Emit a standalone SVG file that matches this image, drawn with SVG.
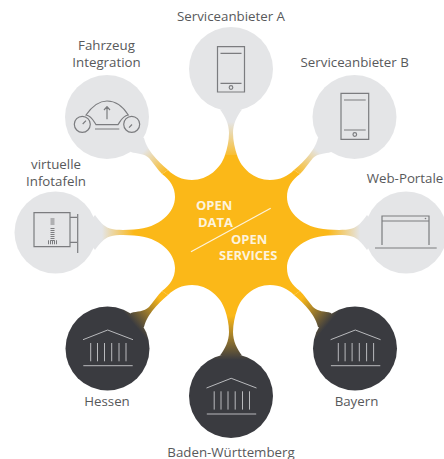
<svg xmlns="http://www.w3.org/2000/svg" width="444" height="459" viewBox="0 0 444 459">
<style>
.t{font-family:"Open Sans","Noto Sans",sans-serif;font-size:13.3px;fill:#58595b;text-anchor:middle}
.c{font-family:"Open Sans","Noto Sans",sans-serif;font-size:13px;font-weight:700;fill:#fdf3dc}
.i{fill:none;stroke:#7b7c7f;stroke-width:1.2}
.b{fill:none;stroke:#b9babd;stroke-width:1}
</style>
<defs>
<linearGradient id="ga" gradientUnits="userSpaceOnUse" x1="231" y1="160" x2="231" y2="122"><stop offset="0" stop-color="#fbb818"/><stop offset="1" stop-color="#e4e5e7"/></linearGradient>
<linearGradient id="gb" gradientUnits="userSpaceOnUse" x1="294" y1="173" x2="316" y2="149"><stop offset="0" stop-color="#fbb818"/><stop offset="1" stop-color="#e4e5e7"/></linearGradient>
<linearGradient id="gf" gradientUnits="userSpaceOnUse" x1="168" y1="173" x2="146" y2="149"><stop offset="0" stop-color="#fbb818"/><stop offset="1" stop-color="#e4e5e7"/></linearGradient>
<linearGradient id="gw" gradientUnits="userSpaceOnUse" x1="328" y1="232" x2="360" y2="232"><stop offset="0" stop-color="#fbb818"/><stop offset="1" stop-color="#e4e5e7"/></linearGradient>
<linearGradient id="gv" gradientUnits="userSpaceOnUse" x1="134" y1="232" x2="102" y2="232"><stop offset="0" stop-color="#fbb818"/><stop offset="1" stop-color="#e4e5e7"/></linearGradient>
<linearGradient id="gh" gradientUnits="userSpaceOnUse" x1="160" y1="298" x2="132" y2="322"><stop offset="0" stop-color="#fbb818"/><stop offset="1" stop-color="#3a3b40"/></linearGradient>
<linearGradient id="gy" gradientUnits="userSpaceOnUse" x1="302" y1="298" x2="330" y2="322"><stop offset="0" stop-color="#fbb818"/><stop offset="1" stop-color="#3a3b40"/></linearGradient>
<linearGradient id="gu" gradientUnits="userSpaceOnUse" x1="231" y1="316" x2="231" y2="360"><stop offset="0" stop-color="#fbb818"/><stop offset="1" stop-color="#3a3b40"/></linearGradient>
<g id="bank"><path class="b" d="M83 339.700L107.700 330L133 339.700M83.300 365.700H132.700M90.700 343V361.300M97.500 343V361.300M104.500 343V361.300M111.700 343V361.300M119 343V361.300M126 343V361.300"/></g>
</defs>

<g id="hub">
<path fill="#fbb818" d="M237 155C241 168 254 180 270 180C280 180 288 176 294 170L300 174C292 180 287 187 287 197C287 212 302 228 328 229.500L328 235.500C302 237 287 253 287 268C287 278 292 285 300 291L294 295C288 289 280 285 270 285C254 285 241 297 237 310L225 310C221 297 208 285 192 285C182 285 174 289 168 295L162 291C170 285 175 278 175 268C175 253 160 237 134 235.500L134 229.500C160 228 175 212 175 197C175 187 170 180 162 174L168 170C174 176 182 180 192 180C208 180 221 168 225 155Z"/>
<text class="c" x="196" y="210">OPEN</text>
<text class="c" x="198" y="226.500">DATA</text>
<text class="c" x="231" y="243.500">OPEN</text>
<text class="c" x="219" y="260">SERVICES</text>
<line x1="191" y1="251.700" x2="270.700" y2="208.300" stroke="#fdf3dc" stroke-width="1.200"/>
</g>

<g id="connectors">
<path fill="url(#ga)" d="M242 109.500C237 116 233 124 233 133C233 141 235 149 237 155L225 155C227 149 229 141 229 133C229 124 225 116 220 109.500Z"/>
<path fill="url(#gb)" d="M318 138C316 146 312 151 309 155C305 160 300 165 294 170L300 174C304 170 308 164 313 158C318 153 325 154 331 152L345 130Z"/>
<path fill="url(#gf)" d="M144 138C146 146 150 151 153 155C157 160 162 165 168 170L162 174C158 170 154 164 149 158C144 153 137 154 131 152L117 130Z"/>
<path fill="url(#gw)" d="M328 229.500C336 230 345 230.500 352 228.500C358 226.500 362 222 367 215L380 232L367 250C362 243 358 238.500 352 236.500C345 234.500 336 235 328 235.500Z"/>
<path fill="url(#gv)" d="M134 229.500C126 230 117 230.500 110 228.500C104 226.500 100 222 95 215L82 232L95 250C100 243 104 238.500 110 236.500C117 234.500 126 235 134 235.500Z"/>
<path fill="url(#gh)" d="M144 327C146 319 150 314 153 310C157 305 162 300 168 295L162 291C158 295 154 301 149 307C144 312 137 311 131 313L117 335Z"/>
<path fill="url(#gy)" d="M318 327C316 319 312 314 309 310C305 305 300 300 294 295L300 291C304 295 308 301 313 307C318 312 325 311 331 313L345 335Z"/>
<path fill="url(#gu)" d="M237 310C235 316 233 324 233 332C233 341 237 349 242 355.500L220 355.500C225 349 229 341 229 332C229 324 227 316 225 310Z"/>
</g>

<g id="serviceanbieter-a">
<circle cx="231" cy="69" r="42" fill="#e4e5e7"/>
<path class="i" d="M217.500 46.700H244.500V92H217.500ZM220.500 53.300H241.500M220.500 83.300H241.500"/><circle class="i" cx="231" cy="87.500" r="1.800"/>
<text class="t" x="231" y="20.500">Serviceanbieter A</text>
</g>
<g id="serviceanbieter-b">
<circle cx="354.500" cy="117" r="42" fill="url(#gb)"/>
<path class="i" d="M341 93.300H368.700V139.300H341ZM344 100H365.700M344 130H365.700"/><circle class="i" cx="354.800" cy="134.500" r="1.800"/>
<text class="t" x="354.700" y="67">Serviceanbieter B</text>
</g>
<g id="web-portale">
<circle cx="406" cy="232.500" r="41" fill="url(#gw)"/>
<path class="i" d="M382 245V216H429V245M382 221H429M375 248H436.700"/><circle cx="425.500" cy="218.500" r="0.800" fill="#7b7c7f"/>
<text class="t" x="405" y="182.700">Web-Portale</text>
</g>
<g id="fahrzeug-integration">
<circle cx="107" cy="117" r="42" fill="url(#gf)"/>
<circle class="i" cx="82.300" cy="124.300" r="8"/><circle class="i" cx="131.700" cy="124.300" r="8"/>
<path class="i" d="M82.700 124L86 120.700M129 127.700L132 124.500M86 115C93 105 100 101 107 101C114 101 122 105 128.300 115C122 116 120 122 118 124.700H96C94 122 92 116 86 115ZM95 129H119.300M107 119.300V106.700M104 110L107 106.700L110 110"/>
<text class="t" x="106.500" y="50">Fahrzeug</text>
<text class="t" x="106.500" y="66.700">Integration</text>
</g>
<g id="virtuelle-infotafeln">
<circle cx="55.500" cy="232.500" r="41" fill="url(#gv)"/>
<path class="i" d="M34 212.700H70V246.700H34ZM70 217.300H77M70 242.300H77M77.700 214V253"/>
<path d="M52.500 218.500V225M52.500 228V242M48 242.300H57" fill="none" stroke="#7b7c7f" stroke-width="4" stroke-dasharray="1 1"/>
<text class="t" x="56" y="169">virtuelle</text>
<text class="t" x="56" y="186">Infotafeln</text>
</g>
<g id="hessen">
<circle cx="107.500" cy="348.500" r="42" fill="url(#gh)"/>
<use href="#bank"/>
<text class="t" x="107" y="405.700">Hessen</text>
</g>
<g id="bayern">
<circle cx="355" cy="348.500" r="42" fill="url(#gy)"/>
<use href="#bank" x="247.600"/>
<text class="t" x="356.500" y="405.700">Bayern</text>
</g>
<g id="baden-wuerttemberg">
<circle cx="231" cy="396" r="42" fill="url(#gu)"/>
<use href="#bank" x="123.500" y="48.300"/>
<text class="t" x="231" y="456.500">Baden-Württemberg</text>
</g>
</svg>
